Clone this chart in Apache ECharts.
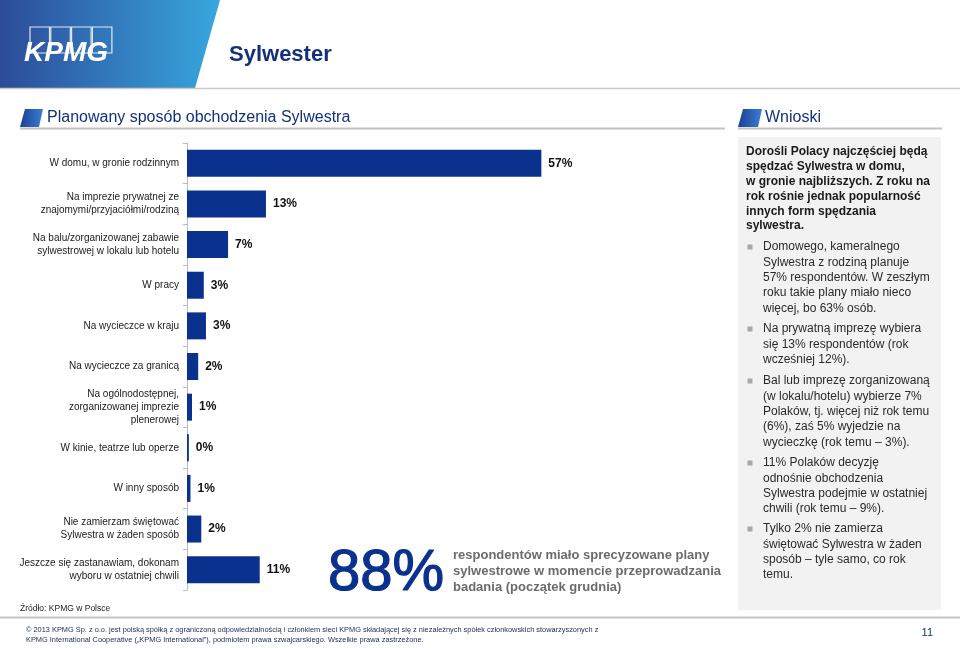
<!DOCTYPE html>
<html>
<head>
<meta charset="utf-8">
<script src="https://cdn.jsdelivr.net/npm/echarts@6/dist/echarts.min.js"></script>
<style>
html,body{margin:0;padding:0;background:#fff;}
#chart{width:960px;height:648px;}
</style>
</head>
<body>
<div id="chart"></div>
<script>
// ---- data ----
const categories = [
  'W domu, w gronie rodzinnym',
  'Na imprezie prywatnej ze\nznajomymi/przyjaciółmi/rodziną',
  'Na balu/zorganizowanej zabawie\nsylwestrowej w lokalu lub hotelu',
  'W pracy',
  'Na wycieczce w kraju',
  'Na wycieczce za granicą',
  'Na ogólnodostępnej,\nzorganizowanej imprezie\nplenerowej',
  'W kinie, teatrze lub operze',
  'W inny sposób',
  'Nie zamierzam świętować\nSylwestra w żaden sposób',
  'Jeszcze się zastanawiam, dokonam\nwyboru w ostatniej chwili'
];
// bar lengths as drawn (percent)
const values = [57, 12.7, 6.6, 2.7, 3.05, 1.8, 0.8, 0.3, 0.56, 2.3, 11.7];
// printed labels
const labelTexts = ['57%', '13%', '7%', '3%', '3%', '2%', '1%', '0%', '1%', '2%', '11%'];

const pageTitle = 'Sylwester';
const sectionTitle = 'Planowany sposób obchodzenia Sylwestra';
const sideTitle = 'Wnioski';
const sideHeading = 'Dorośli Polacy najczęściej będą\nspędzać Sylwestra w domu,\nw gronie najbliższych. Z roku na\nrok rośnie jednak popularność\ninnych form spędzania\nsylwestra.';
const sideBullets = [
  'Domowego, kameralnego\nSylwestra z rodziną planuje\n57% respondentów. W zeszłym\nroku takie plany miało nieco\nwięcej, bo 63% osób.',
  'Na prywatną imprezę wybiera\nsię 13% respondentów (rok\nwcześniej 12%).',
  'Bal lub imprezę zorganizowaną\n(w lokalu/hotelu) wybierze 7%\nPolaków, tj. więcej niż rok temu\n(6%), zaś 5% wyjedzie na\nwycieczkę (rok temu – 3%).',
  '11% Polaków decyzję\nodnośnie obchodzenia\nSylwestra podejmie w ostatniej\nchwili (rok temu – 9%).',
  'Tylko 2% nie zamierza\nświętować Sylwestra w żaden\nsposób – tyle samo, co rok\ntemu.'
];
const bigNumber = '88%';
const bigNumberText = 'respondentów miało sprecyzowane plany\nsylwestrowe w momencie przeprowadzania\nbadania (początek grudnia)';
const sourceText = 'Źródło: KPMG w Polsce';
const copyright1 = '© 2013 KPMG Sp. z o.o. jest polską spółką z ograniczoną odpowiedzialnością i członkiem sieci KPMG składającej się z niezależnych spółek członkowskich stowarzyszonych z';
const copyright2 = 'KPMG International Cooperative („KPMG International”), podmiotem prawa szwajcarskiego. Wszelkie prawa zastrzeżone.';
const pageNumber = '11';

// ---- layout / style ----
const FF = '"Liberation Sans", Arial, Helvetica, sans-serif';
const NAVY = '#14307c';
const BAR = '#0b318f';

const bulletTops = [247, 329, 381, 463, 529];
const bulletLH = 15.3;

const graphics = [];
// header band
graphics.push({
  type: 'polygon', silent: true,
  shape: { points: [[0,0],[220,0],[195,88],[0,88]] },
  style: { fill: new echarts.graphic.LinearGradient(0,0,1,0,[{offset:0,color:'#2c4b99'},{offset:1,color:'#37a7dd'}]) }
});
graphics.push({ type:'line', silent:true, shape:{x1:0,y1:88.5,x2:960,y2:88.5}, style:{stroke:'#c9c9c9', lineWidth:1.5} });
// KPMG logo boxes
for (let i = 0; i < 4; i++) {
  graphics.push({ type:'rect', silent:true, shape:{x:30 + i*20.8, y:27, width:19.5, height:26},
    style:{ fill:'none', stroke:'rgba(255,255,255,0.85)', lineWidth:1.2 } });
}
graphics.push({ type:'text', silent:true, style:{ x:24, y:53, text:'KPMG', font:'italic bold 28px ' + FF, fill:'#ffffff', textVerticalAlign:'middle' } });
graphics.push({ type:'text', silent:true, style:{ x:229, y:55, text:pageTitle, font:'bold 22px ' + FF, fill:NAVY, textVerticalAlign:'middle' } });

// section icons
const iconGrad = () => new echarts.graphic.LinearGradient(0,0,1,0,[{offset:0,color:'#1c3f95'},{offset:1,color:'#3a7fd0'}]);
graphics.push({ type:'polygon', silent:true, shape:{points:[[25,109],[43,109],[39,127],[20,127]]}, style:{fill:iconGrad()} });
graphics.push({ type:'polygon', silent:true, shape:{points:[[743,109],[762,109],[758,127],[738,127]]}, style:{fill:iconGrad()} });
graphics.push({ type:'text', silent:true, style:{ x:47, y:118, text:sectionTitle, font:'16px ' + FF, fill:NAVY, textVerticalAlign:'middle' } });
graphics.push({ type:'text', silent:true, style:{ x:765, y:118, text:sideTitle, font:'16px ' + FF, fill:NAVY, textVerticalAlign:'middle' } });
graphics.push({ type:'line', silent:true, shape:{x1:20,y1:128.5,x2:725,y2:128.5}, style:{stroke:'#c4c4c4', lineWidth:2} });
graphics.push({ type:'line', silent:true, shape:{x1:738,y1:128.5,x2:942,y2:128.5}, style:{stroke:'#c4c4c4', lineWidth:2} });

// side panel
graphics.push({ type:'rect', silent:true, z:-1, shape:{x:738,y:137,width:203,height:473}, style:{fill:'#f2f2f2'} });
graphics.push({ type:'text', silent:true, style:{ x:746, y:152 - 7.4, text:sideHeading, font:'bold 12px ' + FF, fill:'#1a1a1a', lineHeight:14.8, textVerticalAlign:'top' } });
sideBullets.forEach((t, i) => {
  graphics.push({ type:'rect', silent:true, shape:{x:747.5, y:bulletTops[i]-2.5, width:5, height:5}, style:{fill:'#a8a8a8'} });
  graphics.push({ type:'text', silent:true, style:{ x:763, y:bulletTops[i] - bulletLH/2, text:t, font:'12px ' + FF, fill:'#2a2a2a', lineHeight:bulletLH, textVerticalAlign:'top' } });
});

// big number
graphics.push({ type:'text', silent:true, style:{ x:328, y:574, text:bigNumber, font:'58px ' + FF, fill:BAR, stroke:BAR, lineWidth:1.2, textVerticalAlign:'middle' } });
graphics.push({ type:'text', silent:true, style:{ x:453, y:555 - 8, text:bigNumberText, font:'bold 13px ' + FF, fill:'#6b6b6b', lineHeight:16, textVerticalAlign:'top' } });

// footer
graphics.push({ type:'text', silent:true, style:{ x:20, y:609, text:sourceText, font:'8.5px ' + FF, fill:'#222', textVerticalAlign:'middle' } });
graphics.push({ type:'line', silent:true, shape:{x1:0,y1:617.5,x2:960,y2:617.5}, style:{stroke:'#c4c4c4', lineWidth:2} });
graphics.push({ type:'text', silent:true, style:{ x:26, y:630, text:copyright1, font:'7.4px ' + FF, fill:'#1f2f63', textVerticalAlign:'middle' } });
graphics.push({ type:'text', silent:true, style:{ x:26, y:640, text:copyright2, font:'7.4px ' + FF, fill:'#1f2f63', textVerticalAlign:'middle' } });
graphics.push({ type:'text', silent:true, style:{ x:933, y:633, text:pageNumber, font:'11px ' + FF, fill:NAVY, textAlign:'right', textVerticalAlign:'middle' } });

const chart = echarts.init(document.getElementById('chart'), null, { renderer: 'canvas' });
chart.setOption({
  animation: false,
  backgroundColor: '#ffffff',
  grid: { left: 187, top: 143, width: 373, height: 447, containLabel: false },
  xAxis: { type: 'value', min: 0, max: 60, show: false },
  yAxis: {
    type: 'category', inverse: true, data: categories,
    axisLine: { show: true, lineStyle: { color: '#b7bccb', width: 1 } },
    axisTick: { show: true, length: 4, lineStyle: { color: '#b7bccb' } },
    axisLabel: { fontSize: 10, fontFamily: FF, color: '#1a1a1a', margin: 8, lineHeight: 13, align: 'right' }
  },
  series: [{
    type: 'bar', data: values, barWidth: 27,
    itemStyle: { color: BAR },
    label: {
      show: true, position: 'right', distance: 7,
      formatter: p => labelTexts[p.dataIndex],
      fontSize: 12, fontWeight: 'bold', fontFamily: FF, color: '#111'
    }
  }],
  graphic: graphics
});
</script>
</body>
</html>
